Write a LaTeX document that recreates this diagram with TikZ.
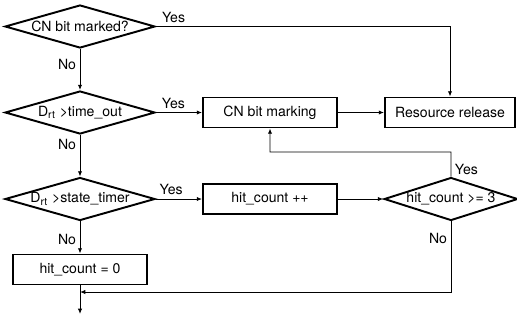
\documentclass[tikz,border=0pt]{standalone}
\usepackage{fontspec}
\setmainfont{TeX Gyre Heros}
\usetikzlibrary{shapes.geometric, arrows.meta, positioning}

\begin{document}
\begin{tikzpicture}[
  node distance=1.72cm, on grid,
  dec/.style = {diamond, draw, line width=1.1pt, aspect=3.5, inner sep=0pt,
                minimum width=3cm, minimum height=0.86cm, font=\fontsize{8}{9}\selectfont},
  proc/.style = {rectangle, draw, line width=1.1pt, minimum width=2.68cm,
                 minimum height=0.6cm, font=\fontsize{8}{9}\selectfont},
  arr/.style = {-{Latex[length=3pt, width=2.4pt]}, line width=0.5pt},
  lbl/.style = {font=\fontsize{8}{9}\selectfont, inner sep=2pt},
]
  \useasboundingbox (0,0) rectangle (10.34,-6.4);

  % Left column: decisions
  \node[dec] (cnq) at (1.6,-0.53) {CN bit marked?};
  \node[dec, below=of cnq]         (tq)   {D\textsubscript{rt} >time\_out};
  \node[dec, below=1.73cm of tq]   (sq)   {D\textsubscript{rt} >state\_timer};
  \node[proc, below=1.41cm of sq]  (zero) {hit\_count = 0};

  % Right side
  \node[proc, right=3.8cm of tq]   (mark) {CN bit marking};
  \node[proc, right=3.6cm of mark, minimum width=2.6cm] (rel) {Resource release};
  \node[proc, right=3.8cm of sq]   (inc)  {hit\_count ++};
  \node[dec, right=3.62cm of inc, minimum width=2.64cm] (hq) {hit\_count >= 3};

  \coordinate (loop)  at (9.02,-3.04);
  \coordinate (merge) at (1.6,-5.84);
  \coordinate (out)   at (1.6,-6.28);

  % Main flow
  \draw[arr] (cnq) -- node[lbl, left, pos=0.38] {No} (tq);
  \draw[arr] (tq)  -- node[lbl, left, pos=0.23] {No} (sq);
  \draw[arr] (sq)  -- node[lbl, left, pos=0.56] {No} (zero);
  \draw[arr] (zero) -- (out);

  % Yes branches
  \draw[arr] (cnq.east) -| node[lbl, above, pos=0.03] {Yes} (rel.north);
  \draw[arr] (tq.east) -- node[lbl, above, pos=0.38] {Yes} (mark.west);
  \draw[arr] (mark) -- (rel);
  \draw[arr] (sq.east) -- node[lbl, above, pos=0.33] {Yes} (inc.west);
  \draw[arr] (inc) -- (hq);

  % hit_count check
  \draw[arr] (hq.north) -- node[lbl, right, pos=0.3] {Yes} (loop) -| (mark.south);
  \draw[arr] (hq.south) |- node[lbl, left, pos=0.12] {No} (merge);

\end{tikzpicture}
\end{document}
